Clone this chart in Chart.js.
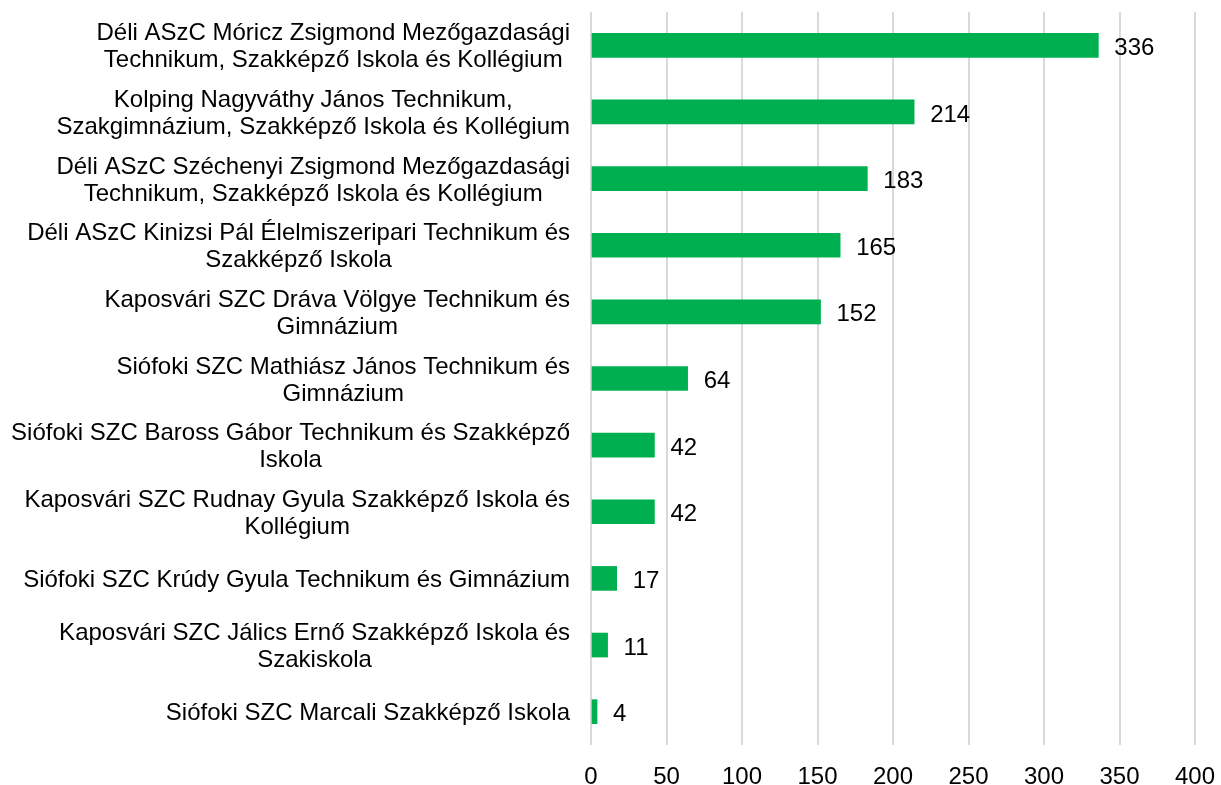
<!DOCTYPE html>
<html>
<head>
<meta charset="utf-8">
<script src="https://cdn.jsdelivr.net/npm/chart.js@4/dist/chart.umd.min.js"></script>
<style>
html,body{margin:0;padding:0;background:#fff;}
#wrap{width:1221px;height:785px;position:relative;}
</style>
</head>
<body>
<div id="wrap"><canvas id="c" width="1221" height="785"></canvas></div>
<script>
const categories = [
  ["Déli ASzC Móricz Zsigmond Mezőgazdasági", "Technikum, Szakképző Iskola és Kollégium"],
  ["Kolping Nagyváthy János Technikum,", "Szakgimnázium, Szakképző Iskola és Kollégium"],
  ["Déli ASzC Széchenyi Zsigmond Mezőgazdasági", "Technikum, Szakképző Iskola és Kollégium"],
  ["Déli ASzC Kinizsi Pál Élelmiszeripari Technikum és", "Szakképző Iskola"],
  ["Kaposvári SZC Dráva Völgye Technikum és", "Gimnázium"],
  ["Siófoki SZC Mathiász János Technikum és", "Gimnázium"],
  ["Siófoki SZC Baross Gábor Technikum és Szakképző", "Iskola"],
  ["Kaposvári SZC Rudnay Gyula Szakképző Iskola és", "Kollégium"],
  ["Siófoki SZC Krúdy Gyula Technikum és Gimnázium"],
  ["Kaposvári SZC Jálics Ernő Szakképző Iskola és", "Szakiskola"],
  ["Siófoki SZC Marcali Szakképző Iskola"]
];
const values = [336, 214, 183, 165, 152, 64, 42, 42, 17, 11, 4];
const xTicks = [0, 50, 100, 150, 200, 250, 300, 350, 400];

const FONT = "'Liberation Sans', Arial, sans-serif";
const FS = 24;

const labelPlugin = {
  id: 'customLabels',
  afterDraw(chart) {
    const ctx = chart.ctx;
    const ys = chart.scales.y;
    const xs = chart.scales.x;
    ctx.save();
    ctx.font = FS + 'px ' + FONT;
    ctx.fillStyle = '#000000';
    ctx.textBaseline = 'middle';
    const rightEdge = xs.left - 21;
    const lh = 27;
    chart.data.labels.forEach((lab, i) => {
      const y = ys.getPixelForValue(i);
      const lines = Array.isArray(lab) ? lab : [lab];
      let maxW = 0;
      lines.forEach(l => { maxW = Math.max(maxW, ctx.measureText(l).width); });
      const cx = rightEdge - maxW / 2;
      ctx.textAlign = 'center';
      lines.forEach((l, k) => {
        const yy = y + (k - (lines.length - 1) / 2) * lh + 2;
        ctx.fillText(l, cx, yy);
      });
    });
    const meta = chart.getDatasetMeta(0);
    ctx.textAlign = 'left';
    meta.data.forEach((bar, i) => {
      const v = chart.data.datasets[0].data[i];
      ctx.fillText(String(v), bar.x + 16, bar.y + 3);
    });
    ctx.restore();
  }
};

new Chart(document.getElementById('c'), {
  type: 'bar',
  data: {
    labels: categories,
    datasets: [{
      data: values,
      backgroundColor: '#00B050',
      borderWidth: 0,
      barThickness: 24
    }]
  },
  options: {
    indexAxis: 'y',
    responsive: false,
    animation: false,
    layout: { padding: { top: 12, right: 26, bottom: 0, left: 0 } },
    plugins: { legend: { display: false }, tooltip: { enabled: false } },
    scales: {
      x: {
        min: 0, max: 400,
        afterBuildTicks(scale) { scale.ticks = xTicks.map(v => ({ value: v })); },
        afterFit(scale) { scale.height = 40; scale.paddingLeft = 0; scale.paddingRight = 0; },
        grid: { color: '#d9d9d9', lineWidth: 2, drawTicks: false },
        border: { display: false },
        ticks: { color: '#000000', font: { family: FONT, size: FS }, padding: 18, maxRotation: 0 }
      },
      y: {
        afterFit(scale) { scale.width = 591; },
        grid: { display: false, drawTicks: false },
        border: { display: false },
        ticks: { display: false }
      }
    }
  },
  plugins: [labelPlugin]
});
</script>
</body>
</html>
